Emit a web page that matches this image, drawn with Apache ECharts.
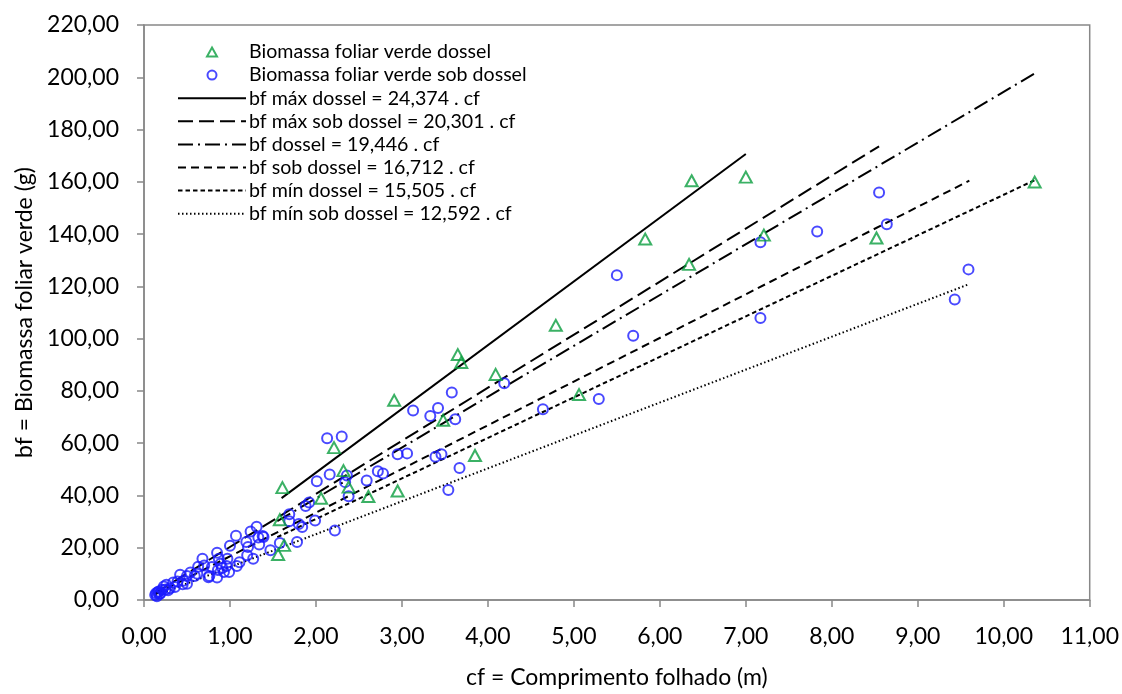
<!DOCTYPE html>
<html>
<head>
<meta charset="utf-8">
<script src="https://cdn.jsdelivr.net/npm/echarts@6/dist/echarts.min.js"></script>
<style>
html,body{margin:0;padding:0;background:#fff;}
#chart{width:1122px;height:694px;}
</style>
</head>
<body>
<div id="chart"></div>
<script>
// ---- Data ----
const xTicks = [0,1,2,3,4,5,6,7,8,9,10,11];
const yTicks = [0,20,40,60,80,100,120,140,160,180,200,220];

const dosselX = [10.36,8.52,7.21,7.00,6.37,6.34,5.83,4.79,5.06,3.65,3.69,4.09,2.91,3.48,3.85,2.95,2.21,1.61,2.32,2.38,2.06,2.61,1.58,1.63,1.56];
const dosselY = [159.9,138.5,139.6,161.8,160.4,128.4,138.1,105.1,78.6,93.9,90.9,86.3,76.4,68.8,55.3,41.7,58.3,43.0,49.5,43.2,38.9,39.6,30.7,20.9,17.4];

const sobX = [8.55,8.64,7.83,7.17,5.50,5.69,7.17,5.29,4.64,9.59,9.43,4.19,3.58,3.13,3.33,3.42,3.62,2.95,3.06,3.39,3.46,3.67,2.78,2.72,3.54,2.13,2.30,2.01,2.16,2.36,2.34,2.59,2.38,1.88,1.92,1.69,1.69,1.80,1.84,1.99,2.22,1.38,1.58,1.78,1.47,
  1.31,1.24,1.07,1.39,1.19,1.00,1.21,1.34,1.20,1.27,0.85,0.87,0.97,0.89,0.68,0.70,0.79,0.91,0.96,0.99,1.08,1.11,0.93,0.86,0.76,0.63,0.54,0.50,0.59,0.46,0.42,0.39,0.34,0.30,0.26,0.23,0.21,0.17,0.14,0.13,0.15,0.19,0.28,0.50,0.75,0.85,1.33,0.62,0.45,0.36,0.25,0.18,0.16];
const sobY = [155.9,143.8,141.0,136.9,124.3,101.1,107.9,76.9,73.0,126.5,115.0,82.9,79.4,72.5,70.4,73.5,69.2,55.8,56.1,54.8,55.8,50.5,48.4,49.3,42.1,61.9,62.6,45.4,48.0,47.6,45.1,45.7,39.7,36.0,37.3,32.8,30.1,29.1,27.9,30.4,26.6,24.5,21.8,22.2,19.0,
  28.0,26.2,24.6,24.1,22.2,20.8,20.3,21.2,17.1,15.8,18.1,15.8,15.8,13.9,15.8,13.2,12.6,12.2,13.0,10.7,13.0,14.4,10.7,11.5,9.2,12.7,10.5,9.2,9.2,7.4,9.7,7.1,6.7,4.5,5.8,5.2,3.9,3.3,2.6,1.9,1.4,2.6,3.7,6.2,8.7,8.6,23.9,10.0,6.0,5.0,4.0,2.2,3.0];

const lineNames = [
  'bf máx dossel = 24,374 . cf',
  'bf máx sob dossel = 20,301 . cf',
  'bf dossel = 19,446 . cf',
  'bf sob dossel = 16,712 . cf',
  'bf mín dossel = 15,505 . cf',
  'bf mín sob dossel = 12,592 . cf'
];
const lineSlopes = [24.374, 20.301, 19.446, 16.712, 15.505, 12.592];
const lineXStart = [1.60, 0.13, 1.55, 0.13, 1.55, 0.13];
const lineXEnd   = [7.00, 8.55, 10.36, 9.60, 10.36, 9.60];
const lineDash = ['solid', [15,6], [15,5,2,5], [8,5], [4.5,3], [1.5,2.5]];

const scatterNames = ['Biomassa foliar verde dossel', 'Biomassa foliar verde sob dossel'];

// ---- Build ----
const fmt = v => v.toFixed(2).replace('.', ',');
const zip = (a, b) => a.map((v, i) => [v, b[i]]);

const GREEN = '#0a9e3e';
const BLUE = '#1c1cff';

const series = [];
lineNames.forEach((n, i) => {
  series.push({
    name: n,
    type: 'line',
    data: [[lineXStart[i], lineSlopes[i]*lineXStart[i]], [lineXEnd[i], lineSlopes[i]*lineXEnd[i]]],
    showSymbol: false,
    symbol: 'none',
    silent: true,
    z: 1,
    lineStyle: {color: '#000', width: 2, type: lineDash[i]},
    itemStyle: {color: 'rgba(0,0,0,0)', borderWidth: 0, opacity: 0}
  });
});
series.push({
  name: scatterNames[0],
  type: 'scatter',
  data: zip(dosselX, dosselY),
  symbol: 'triangle',
  symbolSize: [12, 11],
  z: 3,
  itemStyle: {color: 'rgba(0,0,0,0)', borderColor: GREEN, borderWidth: 2}
});
series.push({
  name: scatterNames[1],
  type: 'scatter',
  data: zip(sobX, sobY),
  symbol: 'circle',
  symbolSize: 10,
  z: 2,
  itemStyle: {color: 'rgba(0,0,0,0)', borderColor: BLUE, borderWidth: 2}
});

const legendData = [
  {name: scatterNames[0], icon: 'path://M5,0 L10,9 L0,9 Z', itemStyle: {color: 'rgba(0,0,0,0)', borderColor: GREEN, borderWidth: 2}},
  {name: scatterNames[1], icon: 'circle', itemStyle: {color: 'rgba(0,0,0,0)', borderColor: BLUE, borderWidth: 2}}
].concat(lineNames.map(n => ({name: n, itemStyle: {opacity: 0}})));

const FONT = 'Lato';
const chart = echarts.init(document.getElementById('chart'), null, {renderer: 'canvas'});
chart.setOption({
  animation: false,
  backgroundColor: '#fff',
  textStyle: {fontFamily: FONT},
  grid: {left: 144, right: 32, top: 25, bottom: 87, show: true, borderColor: '#888', borderWidth: 1.5, backgroundColor: 'transparent'},
  legend: {
    orient: 'vertical',
    left: 172,
    top: 37,
    itemWidth: 68,
    itemHeight: 9,
    itemGap: 3.1,
    symbolKeepAspect: true,
    data: legendData,
    textStyle: {fontFamily: FONT, fontSize: 19.6, color: '#000', padding: [0,0,0,-2]},
    selectedMode: false
  },
  xAxis: {
    type: 'value',
    min: xTicks[0], max: xTicks[xTicks.length-1], interval: 1,
    name: 'cf = Comprimento folhado (m)',
    nameLocation: 'middle',
    nameGap: 66,
    nameTextStyle: {fontFamily: FONT, fontSize: 23, color: '#000'},
    axisLine: {show: true, lineStyle: {color: '#888', width: 1.5}},
    axisTick: {show: true, length: 7, lineStyle: {color: '#888', width: 1.5}},
    axisLabel: {fontFamily: FONT, fontSize: 23, color: '#000', margin: 25, formatter: fmt},
    splitLine: {show: false}
  },
  yAxis: {
    type: 'value',
    min: yTicks[0], max: yTicks[yTicks.length-1], interval: 20,
    name: 'bf = Biomassa foliar verde (g)',
    nameLocation: 'middle',
    nameGap: 107,
    nameTextStyle: {fontFamily: FONT, fontSize: 23, color: '#000'},
    axisLine: {show: true, lineStyle: {color: '#888', width: 1.5}},
    axisTick: {show: true, length: 7, lineStyle: {color: '#888', width: 1.5}},
    axisLabel: {fontFamily: FONT, fontSize: 23, color: '#000', margin: 25, formatter: fmt},
    splitLine: {show: false}
  },
  series: series
});
</script>
</body>
</html>
